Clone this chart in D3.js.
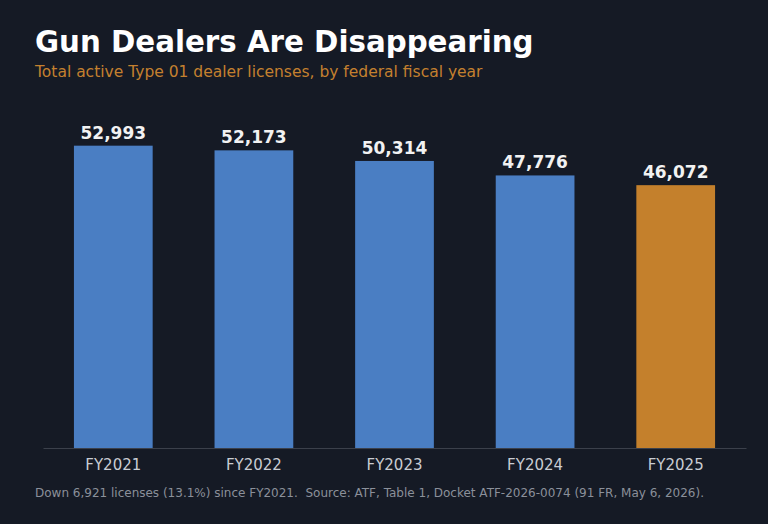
<!DOCTYPE html>
<html>
<head>
<meta charset="utf-8">
<script src="https://cdn.jsdelivr.net/npm/d3@7"></script>
<style>
  html, body { margin: 0; padding: 0; background: #151a25; }
  svg { display: block; font-family: "DejaVu Sans", sans-serif; }
</style>
</head>
<body>
<div class="app"></div>
<script>
// data
var years = ["FY2021", "FY2022", "FY2023", "FY2024", "FY2025"];
var licenses = [52993, 52173, 50314, 47776, 46072];
var highlightYear = "FY2025";

var W = 768, H = 524;
var margin = {top: 100, right: 22, bottom: 76, left: 43},
    width = W - margin.left - margin.right,
    height = H - margin.top - margin.bottom;

var svg = d3.select(".app").append("svg")
    .attr("width", W)
    .attr("height", H);

svg.append("rect")
    .attr("width", W).attr("height", H)
    .attr("fill", "#151a25");

// title and subtitle
svg.append("text")
    .attr("x", 35).attr("y", 52)
    .attr("fill", "#ffffff")
    .attr("font-size", 29.3)
    .attr("font-weight", "bold")
    .text("Gun Dealers Are Disappearing");

svg.append("text")
    .attr("x", 35).attr("y", 77)
    .attr("fill", "#c4802f")
    .attr("font-size", 15.5)
    .text("Total active Type 01 dealer licenses, by federal fiscal year");

var g = svg.append("g")
    .attr("transform", "translate(" + margin.left + "," + margin.top + ")");

var x = d3.scaleBand()
    .domain(years)
    .range([0, width])
    .paddingInner(0.44)
    .paddingOuter(0.22);

var y = d3.scaleLinear()
    .domain([0, 61000])
    .range([height, 0]);

// bars
g.selectAll(".bar")
    .data(years)
    .enter().append("rect")
    .attr("class", "bar")
    .attr("x", function(d) { return x(d); })
    .attr("width", x.bandwidth())
    .attr("y", function(d, i) { return y(licenses[i]); })
    .attr("height", function(d, i) { return height - y(licenses[i]); })
    .attr("fill", function(d) { return d === highlightYear ? "#c4802c" : "#4a7ec3"; });

// value labels
g.selectAll(".val")
    .data(years)
    .enter().append("text")
    .attr("class", "val")
    .attr("x", function(d) { return x(d) + x.bandwidth() / 2; })
    .attr("y", function(d, i) { return y(licenses[i]) - 7; })
    .attr("text-anchor", "middle")
    .attr("fill", "#f2f2f2")
    .attr("font-size", 17)
    .attr("font-weight", "bold")
    .text(function(d, i) { return d3.format(",")(licenses[i]); });

// x axis
var xAxis = g.append("g")
    .attr("transform", "translate(0," + height + ")")
    .call(d3.axisBottom(x).tickSize(0).tickPadding(11));
xAxis.select(".domain").attr("stroke", "#3b404b").attr("stroke-width", 1);
xAxis.selectAll("text")
    .attr("fill", "#c9ccd3")
    .attr("font-size", 15)
    .attr("font-family", "DejaVu Sans, sans-serif");

// footnote
svg.append("text")
    .attr("x", 35).attr("y", 497)
    .attr("fill", "#8b909a")
    .attr("font-size", 12)
    .style("white-space", "pre")
    .text("Down 6,921 licenses (13.1%) since FY2021.  Source: ATF, Table 1, Docket ATF-2026-0074 (91 FR, May 6, 2026).");
</script>
</body>
</html>
